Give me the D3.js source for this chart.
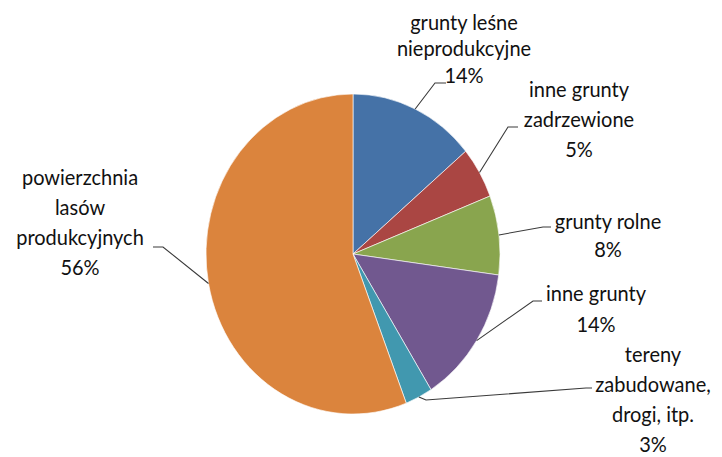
<!DOCTYPE html>
<meta charset="utf-8">
<style>
    body {margin: 0; background: #fff; font-family: "Lato";}
    text {font-family: "Lato"; font-size: 20px; fill: #111;}
</style>
<svg width="722" height="457"></svg>
<script src="https://cdn.jsdelivr.net/npm/d3@7"></script>
<script>
  /**
   * ----------------------------------------------------------------------------------------------
   * data
   * ----------------------------------------------------------------------------------------------
   */
  const categories = [
    "grunty leśne nieprodukcyjne",
    "inne grunty zadrzewione",
    "grunty rolne",
    "inne grunty",
    "tereny zabudowane, drogi, itp.",
    "powierzchnia lasów produkcyjnych"
  ];
  const shares = [13.9, 5.2, 8.0, 14.0, 3.0, 55.9];
  const labelLines = [
    ["grunty leśne", "nieprodukcyjne"],
    ["inne grunty", "zadrzewione"],
    ["grunty rolne"],
    ["inne grunty"],
    ["tereny", "zabudowane,", "drogi, itp."],
    ["powierzchnia", "lasów", "produkcyjnych"]
  ];
  const colors = ["#4572A7", "#AA4643", "#89A54E", "#71588F", "#4198AF", "#DB843D"];

  /**
   *-----------------------------------------------------------------------------------------------
   * layout (label boxes and leader-line bends)
   *-----------------------------------------------------------------------------------------------
   **/
  const cx = 353, cy = 254, r = 147, sy = 160 / 147;
  const labelLayout = [
    {x: 464, y: 30,  dy: 26.5, bend: [[435, 83], [446, 83]]},
    {x: 579, y: 97,  dy: 30,   bend: [[508, 127], [518, 127]]},
    {x: 608, y: 229, dy: 28,   bend: [[543, 227], [551, 227]]},
    {x: 596, y: 301, dy: 31,   bend: [[533, 301], [542, 301]]},
    {x: 653, y: 362, dy: 30,   bend: [[426, 400], [586, 388], [592, 388]]},
    {x: 80,  y: 185, dy: 30,   bend: [[163, 247], [153, 247]]}
  ];

  var svg = d3.select("svg");

  /**------------------------------------------------------------------------
   * pie
   **----------------------------------------------------------------------**/
  var pie = d3.pie().sort(null).value(function(d) { return d; });
  var arcs = pie(shares);
  var arc = d3.arc().innerRadius(0).outerRadius(r);

  svg.append("g")
    .attr("transform", "translate(" + cx + "," + cy + ") scale(1," + sy + ")")
    .selectAll("path")
    .data(arcs)
    .enter().append("path")
      .attr("d", arc)
      .attr("fill", function(d, i) { return colors[i]; })
      .attr("stroke", "#fff")
      .attr("stroke-width", 0.6);

  /**------------------------------------------------------------------------
   * leader lines
   **----------------------------------------------------------------------**/
  function edgePoint(d) {
    var a = (d.startAngle + d.endAngle) / 2;
    return [cx + r * Math.sin(a), cy - r * sy * Math.cos(a)];
  }

  svg.append("g")
    .selectAll("path")
    .data(arcs)
    .enter().append("path")
      .attr("d", function(d, i) { return d3.line()([edgePoint(d)].concat(labelLayout[i].bend)); })
      .attr("fill", "none")
      .attr("stroke", "#3a3a3a")
      .attr("stroke-width", 1.1);

  /**------------------------------------------------------------------------
   * labels (stretched vertically like the pie)
   **----------------------------------------------------------------------**/
  var label = svg.append("g")
    .selectAll("text")
    .data(arcs)
    .enter().append("text")
      .attr("text-anchor", "middle")
      .attr("transform", function(d, i) {
        return "translate(" + labelLayout[i].x + "," + labelLayout[i].y + ") scale(1," + sy + ")";
      });

  label.each(function(d, i) {
    var L = labelLayout[i];
    var lines = labelLines[i].concat([Math.round(d.data) + "%"]);
    d3.select(this).selectAll("tspan")
      .data(lines)
      .enter().append("tspan")
        .attr("x", 0)
        .attr("y", function(t, j) { return j * L.dy / sy; })
        .text(function(t) { return t; });
  });
</script>
